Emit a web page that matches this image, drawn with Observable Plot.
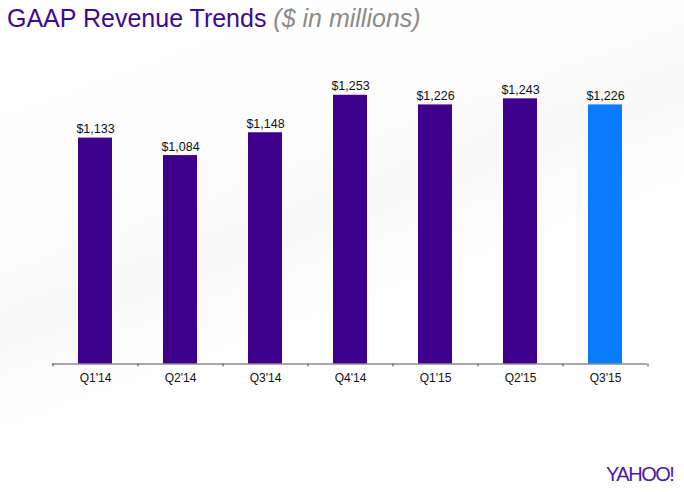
<!DOCTYPE html>
<html>
<head>
<meta charset="utf-8">
<script src="https://cdn.jsdelivr.net/npm/d3@7"></script>
<script src="https://cdn.jsdelivr.net/npm/@observablehq/plot@0.6"></script>
<style>
  html, body { margin: 0; padding: 0; }
  body {
    width: 684px; height: 492px; position: relative; overflow: hidden;
    font-family: "Liberation Sans", Arial, sans-serif;
    background: linear-gradient(160deg, #ffffff 0%, #fdfdfd 30%, #f8f8f8 45%, #ffffff 60%, #ffffff 100%);
  }
  #title {
    position: absolute; left: 7px; top: 4px; font-size: 25px; white-space: nowrap;
    color: #3d0a91;
  }
  #title .sub { color: #8a8a8a; font-style: italic; }
  #chart { position: absolute; left: 0; top: 0; }
  #logo {
    position: absolute; left: 606px; top: 463px; font-size: 20px; color: #4a1aa8; white-space: nowrap;
    font-family: "Liberation Sans Narrow", "Liberation Sans", Arial, sans-serif; letter-spacing: -1.5px;
  }
</style>
</head>
<body>
<div id="chart"></div>
<div id="title">GAAP Revenue Trends <span class="sub">($ in millions)</span></div>
<div id="logo">YAHOO!</div>
<script>
const quarters = ["Q1'14", "Q2'14", "Q3'14", "Q4'14", "Q1'15", "Q2'15", "Q3'15"];
const revenue = [1133, 1084, 1148, 1253, 1226, 1243, 1226];
const labels = ["$1,133", "$1,084", "$1,148", "$1,253", "$1,226", "$1,243", "$1,226"];
const highlight = [false, false, false, false, false, false, true];

const data = quarters.map((q, i) => ({q, v: revenue[i], label: labels[i], hl: highlight[i]}));
const base = 500;
const yTop = 1300;
const tickLen = 8.5; // in y units below base

const chart = Plot.plot({
  width: 684,
  height: 492,
  marginTop: 78,
  marginBottom: 128.5,
  marginLeft: 52,
  marginRight: 37,
  style: {background: "transparent", fontFamily: "'Liberation Sans', Arial, sans-serif"},
  x: {domain: quarters, paddingInner: 0.6, paddingOuter: 0.3, axis: null},
  y: {domain: [base, yTop], axis: null},
  marks: [
    Plot.barY(data, {x: "q", y1: base, y2: "v", fill: d => d.hl ? "#0a7cff" : "#3f008c"}),
    Plot.text(data, {x: "q", y: "v", text: "label", dy: -5, lineAnchor: "bottom", fontSize: 12.5, fill: "#111"}),
    Plot.ruleY([base], {stroke: "#555", strokeWidth: 1}),
    Plot.ruleX(data, {x: "q", y1: base, y2: base - tickLen, dx: -42.5, stroke: "#555"}),
    Plot.ruleX(data.slice(-1), {x: "q", y1: base, y2: base - tickLen, dx: 42.5, stroke: "#555"}),
    Plot.text(data, {x: "q", y: base, text: "q", dy: 14, fontSize: 12, fill: "#111"})
  ]
});
document.getElementById("chart").appendChild(chart);
</script>
</body>
</html>
